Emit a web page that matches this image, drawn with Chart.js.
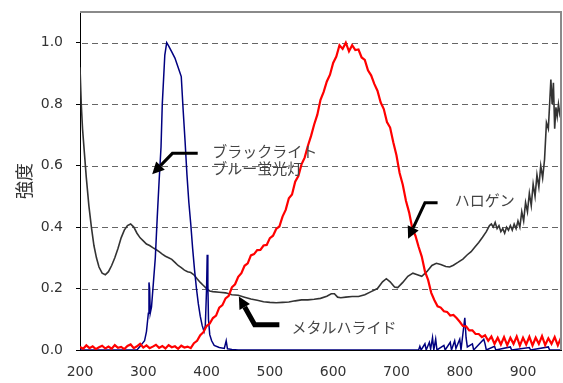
<!DOCTYPE html>
<html>
<head>
<meta charset="utf-8">
<script src="https://cdn.jsdelivr.net/npm/chart.js@4.4.1/dist/chart.umd.min.js"></script>
<style>
  html, body { margin: 0; padding: 0; background: #fff; overflow: hidden; }
  canvas { display: block; }
</style>
</head>
<body>
<canvas id="spectrum" width="563" height="383"></canvas>
<script>
// wavelength ticks and intensity ticks
const xTicks = [200, 300, 400, 500, 600, 700, 800, 900];
const yTicks = [0, 0.2, 0.4, 0.6, 0.8, 1.0];

// red curve (5 nm steps)
const redNm = [
  200, 205, 210, 215, 220, 225, 230, 235, 240, 245,
  250, 255, 260, 265, 270, 275, 280, 285, 290, 295,
  300, 305, 310, 315, 320, 325, 330, 335, 340, 345,
  350, 355, 360, 365, 370, 375, 380, 385, 390, 395,
  400, 405, 410, 415, 420, 425, 430, 435, 440, 445,
  450, 455, 460, 465, 470, 475, 480, 485, 490, 495,
  500, 505, 510, 515, 520, 525, 530, 535, 540, 545,
  550, 555, 560, 565, 570, 575, 580, 585, 590, 595,
  600, 605, 610, 615, 620, 625, 630, 635, 640, 645,
  650, 655, 660, 665, 670, 675, 680, 685, 690, 695,
  700, 705, 710, 715, 720, 725, 730, 735, 740, 745,
  750, 755, 760, 765, 770, 775, 780, 785, 790, 795,
  800, 805, 810, 815, 820, 825, 830, 835, 840, 845,
  850, 855, 860, 865, 870, 875, 880, 885, 890, 895,
  900, 905, 910, 915, 920, 925, 930, 935, 940, 945,
  950, 955, 960
];
const redVal = [
  0.010, 0.004, 0.015, 0.006, 0.012, 0.003, 0.009, 0.014, 0.005, 0.011,
  0.004, 0.016, 0.007, 0.010, 0.003, 0.013, 0.018, 0.006, 0.012, 0.020,
  0.008, 0.015, 0.006, 0.011, 0.017, 0.007, 0.013, 0.005, 0.016, 0.009,
  0.012, 0.004, 0.014, 0.008, 0.011, 0.006, 0.022, 0.030, 0.048, 0.058,
  0.078, 0.086, 0.104, 0.112, 0.138, 0.146, 0.168, 0.176, 0.204, 0.214,
  0.238, 0.250, 0.274, 0.282, 0.308, 0.312, 0.325, 0.326, 0.340, 0.342,
  0.364, 0.372, 0.394, 0.402, 0.434, 0.456, 0.494, 0.506, 0.548, 0.566,
  0.604, 0.626, 0.664, 0.696, 0.734, 0.766, 0.814, 0.840, 0.874, 0.896,
  0.934, 0.955, 0.992, 0.980, 1.000, 0.972, 0.992, 0.976, 0.978, 0.952,
  0.944, 0.910, 0.894, 0.866, 0.844, 0.806, 0.784, 0.742, 0.724, 0.676,
  0.634, 0.576, 0.538, 0.486, 0.448, 0.396, 0.372, 0.336, 0.304, 0.256,
  0.228, 0.186, 0.162, 0.142, 0.138, 0.126, 0.124, 0.112, 0.114, 0.104,
  0.092, 0.078, 0.077, 0.064, 0.064, 0.052, 0.052, 0.042, 0.048, 0.030,
  0.044, 0.020, 0.040, 0.018, 0.042, 0.016, 0.040, 0.020, 0.044, 0.014,
  0.040, 0.018, 0.043, 0.015, 0.040, 0.020, 0.045, 0.016, 0.038, 0.020,
  0.042, 0.015, 0.040
];

// navy curve
const blueNm = [
  200, 290, 294, 298, 302, 305, 308, 309, 310, 311, 313, 316, 319, 322, 325,
  328, 330, 332, 334, 337, 340, 345, 350, 355, 360, 363, 366, 369, 372, 375,
  378, 381, 384, 387, 390, 393, 396, 398, 400, 401, 402, 403, 405, 408, 412,
  420, 428, 431, 433, 440, 450, 735, 737, 739, 745, 747, 752, 754, 757, 759,
  762, 764, 775, 777, 785, 787, 792, 794, 800, 802, 806, 808, 810, 812, 820,
  822, 838, 840, 842, 855, 857, 880, 882, 910, 912, 940, 942, 960
];
const blueVal = [
  0, 0, 0.01, 0.02, 0.03, 0.06, 0.12, 0.22, 0.2, 0.12, 0.14, 0.22, 0.3, 0.43, 0.55,
  0.66, 0.8, 0.88, 0.96, 1.0, 0.99, 0.97, 0.95, 0.92, 0.89, 0.78, 0.68, 0.57, 0.48, 0.41,
  0.33, 0.26, 0.2, 0.15, 0.11, 0.08, 0.06, 0.08, 0.2, 0.31, 0.22, 0.1, 0.05, 0.03, 0.015,
  0.008, 0.005, 0.03, 0.004, 0.002, 0, 0, 0.012, 0, 0.02, 0, 0.025, 0.003, 0.04, 0,
  0.035, 0, 0.015, 0, 0.025, 0, 0.03, 0.005, 0.035, 0, 0.07, 0.105, 0.04, 0.01, 0.02,
  0, 0.035, 0.02, 0, 0.012, 0, 0.01, 0, 0.008, 0, 0.01, 0, 0
];

// dark grey curve
const greyNm = [
  200, 202, 204, 207, 210, 214, 218, 222, 226, 230, 235, 240, 245, 250, 255,
  260, 265, 270, 275, 280, 285, 290, 295, 300, 305, 310, 315, 320, 325, 330,
  335, 340, 345, 350, 355, 360, 365, 370, 375, 380, 385, 390, 395, 400, 405,
  410, 420, 430, 440, 450, 460, 470, 480, 490, 500, 510, 520, 530, 540, 550,
  560, 570, 580, 590, 597, 602, 607, 612, 620, 630, 640, 650, 660, 670, 678,
  684, 690, 697, 702, 710, 718, 726, 733, 740, 748, 756, 763, 770, 778, 784,
  790, 797, 805, 812, 818, 824, 830, 836, 842, 847, 850, 853, 856, 859, 862,
  865, 868, 871, 874, 877, 880, 883, 886, 889, 892, 895, 898, 901, 904, 907,
  910, 913, 916, 919, 922, 925, 928, 931, 934, 937, 940, 942, 944, 946, 948,
  950, 952, 954, 956, 958, 960
];
const greyVal = [
  0.92, 0.8, 0.72, 0.64, 0.56, 0.47, 0.4, 0.34, 0.3, 0.27, 0.25, 0.245, 0.255, 0.275, 0.3,
  0.33, 0.365, 0.39, 0.405, 0.41, 0.4, 0.38, 0.365, 0.355, 0.345, 0.34, 0.333, 0.327, 0.32, 0.312,
  0.305, 0.3, 0.295, 0.285, 0.275, 0.268, 0.26, 0.255, 0.252, 0.245, 0.232, 0.22, 0.21, 0.2, 0.192,
  0.19, 0.188, 0.186, 0.18, 0.178, 0.172, 0.166, 0.162, 0.157, 0.155, 0.154, 0.155, 0.156, 0.16, 0.163,
  0.163, 0.165, 0.168, 0.175, 0.183, 0.183, 0.172, 0.17, 0.172, 0.174, 0.174, 0.18, 0.19, 0.2, 0.222,
  0.232, 0.222, 0.205, 0.203, 0.22, 0.24, 0.25, 0.245, 0.24, 0.255, 0.275, 0.282, 0.278, 0.272, 0.27,
  0.276, 0.285, 0.296, 0.31, 0.32, 0.335, 0.35, 0.367, 0.385, 0.405, 0.41, 0.4, 0.415, 0.395, 0.405,
  0.385, 0.395, 0.38, 0.4, 0.39, 0.405, 0.39, 0.41, 0.395, 0.42, 0.4, 0.45, 0.42, 0.48, 0.45,
  0.51, 0.47, 0.54, 0.5, 0.57, 0.53, 0.6, 0.56, 0.62, 0.74, 0.72, 0.8, 0.88, 0.8, 0.87,
  0.72, 0.79, 0.76, 0.8, 0.77, 0.79
];

// callouts, in data units (nm, intensity)
const labels = [
  { text: 'ブラックライト', x: 409, y: 0.647 },
  { text: 'ブルー蛍光灯', x: 409, y: 0.592 },
  { text: 'ハロゲン', x: 792, y: 0.487 },
  { text: 'メタルハライド', x: 534, y: 0.075 }
];
const arrows = [
  { pts: [[386, 0.64], [346, 0.64], [314, 0.572]], w: 3 },
  { pts: [[765, 0.479], [745, 0.479], [718.4, 0.362]], w: 3 },
  { pts: [[515, 0.082], [476, 0.082], [451, 0.174]], w: 5 }
];

const toXY = (xs, ys) => xs.map((x, i) => ({ x: x, y: ys[i] }));

const callouts = {
  id: 'callouts',
  beforeDatasetsDraw(chart) {
    const { ctx, chartArea: a, scales: { y } } = chart;
    // dashed horizontal grid
    ctx.save();
    ctx.strokeStyle = '#666';
    ctx.lineWidth = 1;
    ctx.setLineDash([6, 4]);
    yTicks.forEach(v => {
      if (v === 0) return;
      const py = Math.round(y.getPixelForValue(v)) + 0.5;
      ctx.beginPath();
      ctx.moveTo(a.left + 2, py);
      ctx.lineTo(a.right, py);
      ctx.stroke();
    });
    ctx.restore();
  },
  afterDatasetsDraw(chart) {
    const { ctx, chartArea: a, scales: { x, y } } = chart;
    ctx.save();
    // grey frame top / right
    ctx.strokeStyle = '#8a8a8a';
    ctx.lineWidth = 2;
    ctx.beginPath();
    ctx.moveTo(a.left, a.top);
    ctx.lineTo(a.right, a.top);
    ctx.lineTo(a.right, a.bottom);
    ctx.stroke();

    ctx.fillStyle = '#444';
    ctx.font = '15px "Noto Sans CJK JP"';
    ctx.textBaseline = 'middle';
    labels.forEach(l => ctx.fillText(l.text, x.getPixelForValue(l.x), y.getPixelForValue(l.y)));

    ctx.strokeStyle = '#000';
    ctx.fillStyle = '#000';
    arrows.forEach(ar => {
      const p = ar.pts.map(q => [x.getPixelForValue(q[0]), y.getPixelForValue(q[1])]);
      const tip = p[p.length - 1], prev = p[p.length - 2];
      const ang = Math.atan2(tip[1] - prev[1], tip[0] - prev[0]);
      const hl = 12, hw = 6;
      const bx = tip[0] - Math.cos(ang) * hl, by = tip[1] - Math.sin(ang) * hl;
      ctx.lineWidth = ar.w;
      ctx.beginPath();
      ctx.moveTo(p[0][0], p[0][1]);
      for (let i = 1; i < p.length - 1; i++) ctx.lineTo(p[i][0], p[i][1]);
      ctx.lineTo(bx, by);
      ctx.stroke();
      ctx.beginPath();
      ctx.moveTo(tip[0], tip[1]);
      ctx.lineTo(bx - Math.sin(ang) * hw, by + Math.cos(ang) * hw);
      ctx.lineTo(bx + Math.sin(ang) * hw, by - Math.cos(ang) * hw);
      ctx.closePath();
      ctx.fill();
    });
    ctx.restore();
  }
};

const ctx = document.getElementById('spectrum').getContext('2d');

new Chart(ctx, {
  type: 'line',
  data: {
    datasets: [
      {
        label: 'red',
        data: toXY(redNm, redVal),
        borderColor: '#ff0000',
        borderWidth: 2.2,
        order: 1
      },
      {
        label: 'navy',
        data: toXY(blueNm, blueVal),
        borderColor: '#000080',
        borderWidth: 1.5,
        order: 2
      },
      {
        label: 'grey',
        data: toXY(greyNm, greyVal),
        borderColor: '#333333',
        borderWidth: 1.6,
        order: 3
      }
    ]
  },
  options: {
    responsive: false,
    animation: false,
    layout: { padding: { top: 12, right: 2, left: 0, bottom: 0 } },
    elements: { point: { radius: 0 }, line: { tension: 0 } },
    plugins: { legend: { display: false }, tooltip: { enabled: false } },
    scales: {
      x: {
        type: 'linear',
        min: 200,
        max: 960,
        afterBuildTicks: axis => { axis.ticks = xTicks.map(v => ({ value: v })); },
        afterFit: axis => { axis.height = 33; axis.paddingLeft = 0; axis.paddingRight = 0; },
        grid: { display: false },
        border: { color: '#000', width: 1 },
        ticks: {
          color: '#333',
          padding: 6,
          maxRotation: 0,
          font: { family: 'DejaVu Sans', size: 14 }
        }
      },
      y: {
        min: 0,
        max: 1.1,
        afterBuildTicks: axis => { axis.ticks = yTicks.map(v => ({ value: v })); },
        afterFit: axis => { axis.width = 80; axis.paddingTop = 0; axis.paddingBottom = 0; },
        grid: { drawOnChartArea: false, tickLength: 4, color: '#000' },
        border: { color: '#000', width: 1 },
        title: {
          display: true,
          text: '強度',
          color: '#333',
          padding: { top: 13, bottom: 0 },
          font: { family: 'Noto Sans CJK JP', size: 18 }
        },
        ticks: {
          color: '#333',
          padding: 13,
          callback: v => v.toFixed(1),
          font: { family: 'DejaVu Sans', size: 14 }
        }
      }
    }
  },
  plugins: [callouts]
});
</script>
</body>
</html>
